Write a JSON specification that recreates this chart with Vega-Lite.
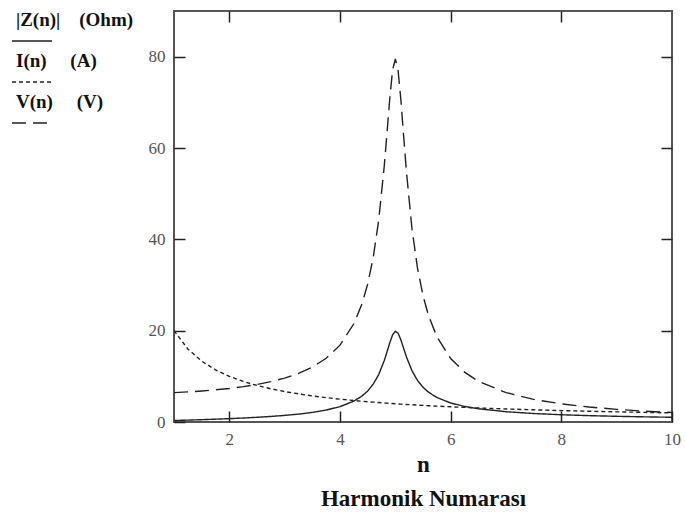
{
  "$schema": "https://vega.github.io/schema/vega-lite/v6.json",
  "width": 498,
  "height": 411,
  "autosize": "none",
  "padding": {"left": 174, "top": 11, "right": 13, "bottom": 94},
  "background": "white",
  "config": {"view": {"stroke": "#555", "strokeWidth": 2}, "font": "Liberation Serif"},
  "data": {"values": [
    {"n": 1, "Z": 0.322, "I": 20, "V": 6.44},
    {"n": 1.25, "Z": 0.412, "I": 16, "V": 6.59},
    {"n": 1.5, "Z": 0.509, "I": 13.33, "V": 6.79},
    {"n": 1.75, "Z": 0.616, "I": 11.43, "V": 7.04},
    {"n": 2, "Z": 0.735, "I": 10, "V": 7.35},
    {"n": 2.25, "Z": 0.870, "I": 8.889, "V": 7.74},
    {"n": 2.5, "Z": 1.028, "I": 8, "V": 8.22},
    {"n": 2.75, "Z": 1.215, "I": 7.273, "V": 8.83},
    {"n": 3, "Z": 1.442, "I": 6.667, "V": 9.62},
    {"n": 3.25, "Z": 1.729, "I": 6.154, "V": 10.64},
    {"n": 3.5, "Z": 2.103, "I": 5.714, "V": 12.02},
    {"n": 3.75, "Z": 2.616, "I": 5.333, "V": 13.95},
    {"n": 4, "Z": 3.366, "I": 5, "V": 16.83},
    {"n": 4.25, "Z": 4.571, "I": 4.706, "V": 21.51},
    {"n": 4.4, "Z": 5.714, "I": 4.545, "V": 25.97},
    {"n": 4.5, "Z": 6.792, "I": 4.444, "V": 30.19},
    {"n": 4.6, "Z": 8.278, "I": 4.348, "V": 35.99},
    {"n": 4.7, "Z": 10.398, "I": 4.255, "V": 44.25},
    {"n": 4.8, "Z": 13.455, "I": 4.167, "V": 56.06},
    {"n": 4.85, "Z": 15.364, "I": 4.124, "V": 63.36},
    {"n": 4.9, "Z": 17.364, "I": 4.082, "V": 70.88},
    {"n": 4.95, "Z": 19.062, "I": 4.04, "V": 77.02},
    {"n": 5, "Z": 19.872, "I": 4, "V": 79.49},
    {"n": 5.05, "Z": 19.435, "I": 3.96, "V": 76.97},
    {"n": 5.1, "Z": 17.999, "I": 3.922, "V": 70.58},
    {"n": 5.15, "Z": 16.133, "I": 3.884, "V": 62.65},
    {"n": 5.2, "Z": 14.28, "I": 3.846, "V": 54.92},
    {"n": 5.3, "Z": 11.242, "I": 3.774, "V": 42.42},
    {"n": 5.4, "Z": 9.109, "I": 3.704, "V": 33.74},
    {"n": 5.5, "Z": 7.611, "I": 3.636, "V": 27.68},
    {"n": 5.6, "Z": 6.524, "I": 3.571, "V": 23.3},
    {"n": 5.75, "Z": 5.372, "I": 3.478, "V": 18.69},
    {"n": 6, "Z": 4.162, "I": 3.333, "V": 13.88},
    {"n": 6.25, "Z": 3.412, "I": 3.2, "V": 10.92},
    {"n": 6.5, "Z": 2.902, "I": 3.077, "V": 8.93},
    {"n": 7, "Z": 2.253, "I": 2.857, "V": 6.44},
    {"n": 7.5, "Z": 1.856, "I": 2.667, "V": 4.95},
    {"n": 8, "Z": 1.588, "I": 2.5, "V": 3.97},
    {"n": 8.5, "Z": 1.393, "I": 2.353, "V": 3.28},
    {"n": 9, "Z": 1.245, "I": 2.222, "V": 2.77},
    {"n": 9.5, "Z": 1.128, "I": 2.105, "V": 2.37},
    {"n": 10, "Z": 1.033, "I": 2, "V": 2.07}
  ]},
  "transform": [{"fold": ["Z", "I", "V"], "as": ["s", "val"]}],
  "layer": [
    {
      "mark": {"type": "line", "color": "#222", "strokeWidth": 1.4, "clip": true},
      "encoding": {
        "x": {
          "field": "n", "type": "quantitative",
          "scale": {"domain": [1, 10], "nice": false, "zero": false},
          "axis": {
            "orient": "bottom", "values": [2, 4, 6, 8, 10], "tickSize": -11, "tickColor": "#222", "tickWidth": 1.5,
            "domain": false, "grid": false, "labelPadding": 20, "labelFont": "Liberation Serif", "labelFontSize": 17,
            "labelColor": "#555", "labelFlush": false,
            "title": ["n", "Harmonik Numarası"], "titleFont": "Liberation Serif", "titleFontWeight": "bold",
            "titleFontSize": 23, "titleLineHeight": 34, "titleColor": "#111", "titlePadding": 6
          }
        },
        "y": {
          "field": "val", "type": "quantitative",
          "scale": {"domain": [0, 90], "nice": false},
          "axis": {
            "orient": "left", "values": [0, 20, 40, 60, 80], "tickSize": -11, "tickColor": "#222", "tickWidth": 1.5,
            "domain": false, "grid": false, "labelPadding": 20, "labelFont": "Liberation Serif", "labelFontSize": 17,
            "labelColor": "#555", "labelFlush": false, "title": null
          }
        },
        "strokeDash": {
          "field": "s", "type": "nominal",
          "scale": {"domain": ["Z", "I", "V"], "range": [[1, 0], [4, 3], [14, 7]]},
          "legend": {
            "orient": "none", "legendX": -163, "legendY": 9, "title": null,
            "symbolType": "stroke", "symbolStrokeColor": "#222", "symbolStrokeWidth": 1.5, "symbolSize": 1600,
            "labelFont": "Liberation Serif", "labelFontWeight": "bold", "labelFontSize": 19, "labelColor": "#111",
            "rowPadding": 8, "labelOffset": 4,
            "labelExpr": "datum.value == 'Z' ? '|Z(n)|\u00a0\u00a0\u00a0\u00a0(Ohm)' : datum.value == 'I' ? 'I(n)\u00a0\u00a0\u00a0\u00a0\u00a0(A)' : 'V(n)\u00a0\u00a0\u00a0\u00a0\u00a0(V)'",
            "encode": {"labels": {"update": {"dx": {"value": -41}, "dy": {"value": -21}}}}
          }
        }
      }
    },
    {
      "mark": {"type": "point", "opacity": 0},
      "encoding": {
        "x": {
          "field": "n", "type": "quantitative",
          "scale": {"domain": [1, 10], "nice": false, "zero": false},
          "axis": {"orient": "top", "values": [2, 4, 6, 8], "labels": false, "tickSize": -11, "tickColor": "#222",
                   "tickWidth": 1.5, "domain": false, "grid": false, "title": null}
        },
        "y": {
          "field": "val", "type": "quantitative",
          "scale": {"domain": [0, 90], "nice": false},
          "axis": {"orient": "right", "values": [20, 40, 60, 80], "labels": false, "tickSize": -11, "tickColor": "#222",
                   "tickWidth": 1.5, "domain": false, "grid": false, "title": null}
        }
      }
    }
  ],
  "resolve": {"axis": {"x": "independent", "y": "independent"}}
}
